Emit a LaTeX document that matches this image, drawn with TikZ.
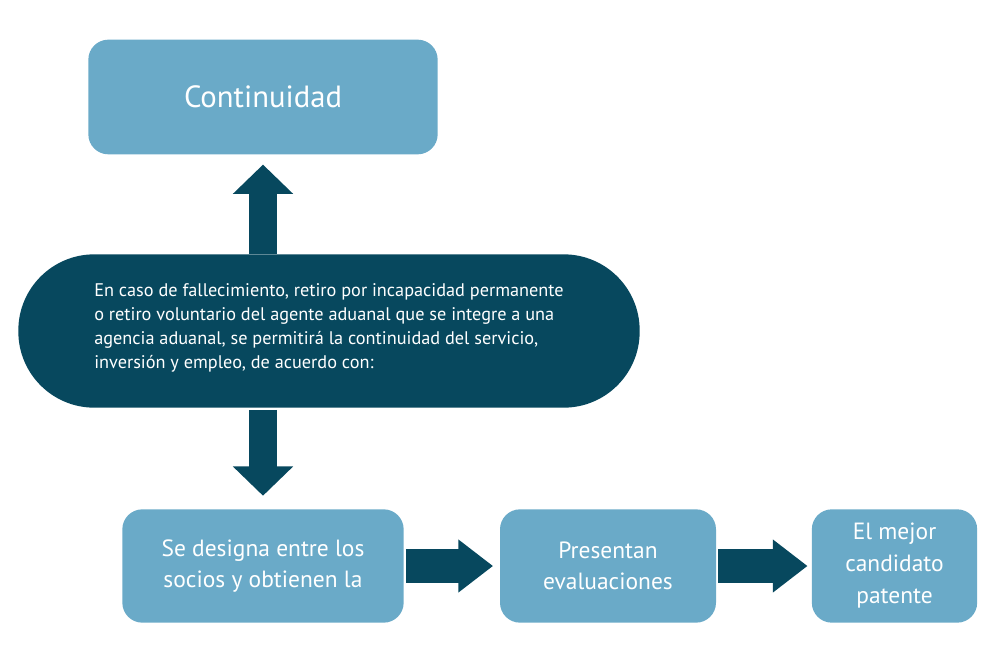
\documentclass[tikz,border=0pt]{standalone}
\usepackage{fontspec}
\setmainfont{PT Sans}
\usetikzlibrary{arrows.meta}
\definecolor{lightblue}{HTML}{6AAAC8}
\definecolor{darkteal}{HTML}{07485E}
\tikzset{
    box/.style={fill=lightblue, text=white, rounded corners=15pt, align=center, inner sep=0pt},
    pill/.style={fill=darkteal, text=white, align=left, inner sep=0pt},
    vbig/.style={draw=darkteal, line width=21pt, -{Triangle[width=44pt, length=22pt]}},
    hbig/.style={draw=darkteal, line width=26pt, -{Triangle[width=38pt, length=26pt]}}
}
\begin{document}
\begin{tikzpicture}[x=0.75pt, y=-0.75pt]
        \useasboundingbox (0,0) rectangle (1000,667);

        \node[box, minimum width=262pt, minimum height=86pt, font=\fontsize{23}{27}\selectfont] (cont) at (263,97) {Continuidad};

        \node[pill, minimum width=466pt, minimum height=115pt, rounded corners=57pt,
              font=\fontsize{13.7}{18}\selectfont] (caso) at (329,331)
            {En caso de fallecimiento, retiro por incapacidad permanente\\
             o retiro voluntario del agente aduanal que se integre a una\\
             agencia aduanal, se permitirá la continuidad del servicio,\\
             inversión y empleo, de acuerdo con:\\[-11pt]};

        \node[box, minimum width=211pt, minimum height=85pt, font=\fontsize{17.6}{23.5}\selectfont] (socios) at (263,566)
            {Se designa entre los\\ socios y obtienen la};
        \node[box, minimum width=162pt, minimum height=85pt, font=\fontsize{17.6}{23.5}\selectfont] (eval) at (608,566)
            {Presentan\\ evaluaciones};
        \node[box, minimum width=124pt, minimum height=85pt, font=\fontsize{17.6}{24}\selectfont] (mejor) at (894.5,566)
            {El mejor\\ candidato\\ patente};

        \draw[vbig, shorten >=7.5pt] (caso.north -| cont.south) -- (cont.south);
        \draw[vbig, shorten <=1.5pt, shorten >=10pt] (caso.south -| socios.north) -- (socios.north);
        \draw[hbig, shorten <=1.5pt, shorten >=5pt] (socios.east) -- (eval.west);
        \draw[hbig, shorten <=1.5pt, shorten >=3pt] (eval.east) -- (mejor.west);
    \end{tikzpicture}
\end{document}
